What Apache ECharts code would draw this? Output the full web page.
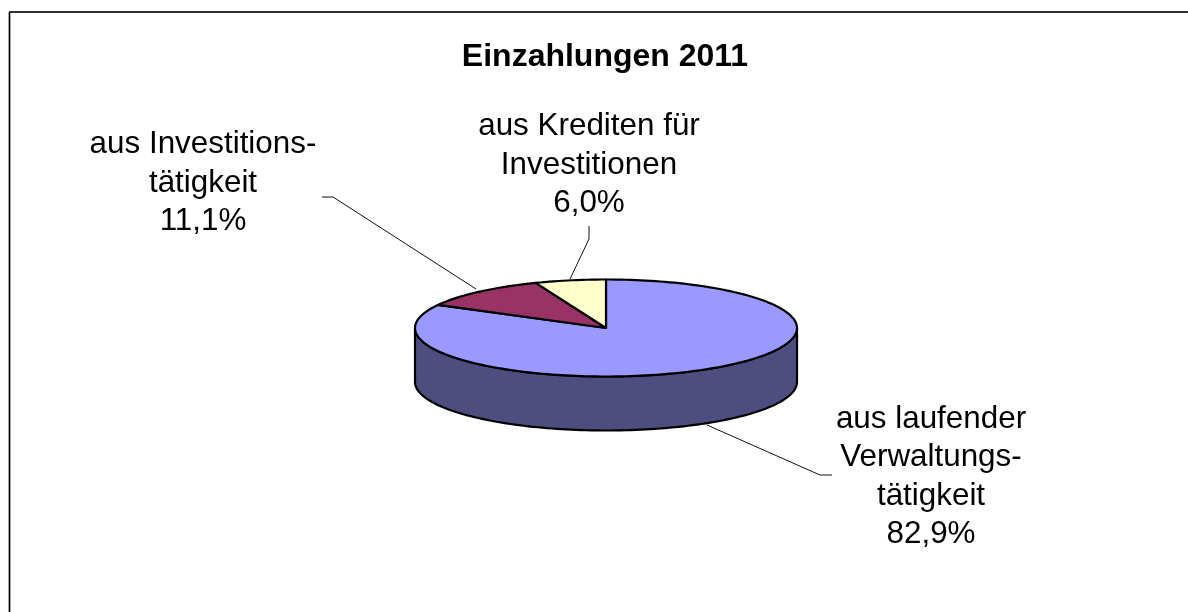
<!DOCTYPE html>
<html><head><meta charset="utf-8">
<style>html,body{margin:0;padding:0;background:#fff}#c{width:1188px;height:612px}</style>
<script src="https://cdn.jsdelivr.net/npm/echarts@6/dist/echarts.min.js"></script>
</head><body><div id="c"></div>
<script>
const titleText = 'Einzahlungen 2011';
const categories = ['aus laufender\nVerwaltungs-\ntätigkeit', 'aus Investitions-\ntätigkeit', 'aus Krediten für\nInvestitionen'];
const shares = [82.9, 11.1, 6.0];
const topColors = ['#9999ff', '#993366', '#ffffcc'];
const sideColors = ['#4d4d80', '#4d1a33', '#808066'];
const labelCenters = [[931, 477], [203, 183], [589, 165]];
const leaderLines = [
  [[707, 425], [820, 475], [832, 475]],
  [[476, 289], [333, 197], [322, 197]],
  [[570, 279], [589, 239], [589, 226]]
];
const pie = {cx: 606, cy: 328, rx: 191, ry: 48.5, depth: 54};
const total = shares.reduce((a, b) => a + b, 0);
const ep = (deg, dy) => {
  const t = deg * Math.PI / 180;
  return [pie.cx + pie.rx * Math.sin(t), pie.cy - pie.ry * Math.cos(t) + (dy || 0)];
};
const arc = (a, b, dy) => {
  const n = Math.max(2, Math.ceil(Math.abs(b - a) / 1.5)), out = [];
  for (let i = 0; i <= n; i++) out.push(ep(a + (b - a) * i / n, dy));
  return out;
};
const chart = echarts.init(document.getElementById('c'), null, {renderer: 'canvas'});
const fmt = v => v.toFixed(1).replace('.', ',') + '%';
let startOf = []; shares.reduce((acc, v, i) => (startOf[i] = acc, acc + v), 0);
chart.setOption({
  animation: false,
  backgroundColor: '#fff',
  title: {
    text: titleText, left: 600, top: 36, textAlign: 'center',
    textStyle: {fontFamily: 'Liberation Sans', fontSize: 32, fontWeight: 'bold', color: '#000'}
  },
  graphic: [
    {type: 'line', shape: {x1: 9.5, y1: 12, x2: 9.5, y2: 612}, style: {stroke: '#000', lineWidth: 1.7}},
    {type: 'line', shape: {x1: 9, y1: 12, x2: 1188, y2: 12}, style: {stroke: '#333', lineWidth: 2}}
  ],
  series: [{
    type: 'custom',
    coordinateSystem: 'none',
    clip: false,
    data: shares.map((v, i) => ({name: categories[i], value: [v, i]})),
    renderItem(params, api) {
      const i = params.dataIndex, v = api.value(0);
      const a0 = startOf[i] / total * 360, a1 = (startOf[i] + v) / total * 360;
      const children = [];
      children.push({type: 'polyline', silent: true, z2: 0, shape: {points: leaderLines[i]},
        style: {stroke: '#111', lineWidth: 1, fill: null}});
      const sa = Math.max(a0, 90), sb = Math.min(a1, 270);
      if (sb > sa) {
        const pts = arc(sa, sb, 0).concat(arc(sb, sa, pie.depth));
        children.push({type: 'polygon', shape: {points: pts},
          style: {fill: sideColors[i], stroke: '#000', lineWidth: 2.2, lineJoin: 'round'}});
      }
      const top = [[pie.cx, pie.cy]].concat(arc(a0, a1, 0));
      children.push({type: 'polygon', shape: {points: top},
        style: {fill: topColors[i], stroke: '#000', lineWidth: 2.2, lineJoin: 'round'}});
      children.push({type: 'text', silent: true, style: {
        x: labelCenters[i][0], y: labelCenters[i][1],
        text: categories[i] + '\n' + fmt(v),
        align: 'center', verticalAlign: 'middle',
        fontFamily: 'Liberation Sans', fontSize: 31.4, lineHeight: 38.4, fill: '#000'
      }});
      return {type: 'group', children};
    }
  }]
});
</script></body></html>
